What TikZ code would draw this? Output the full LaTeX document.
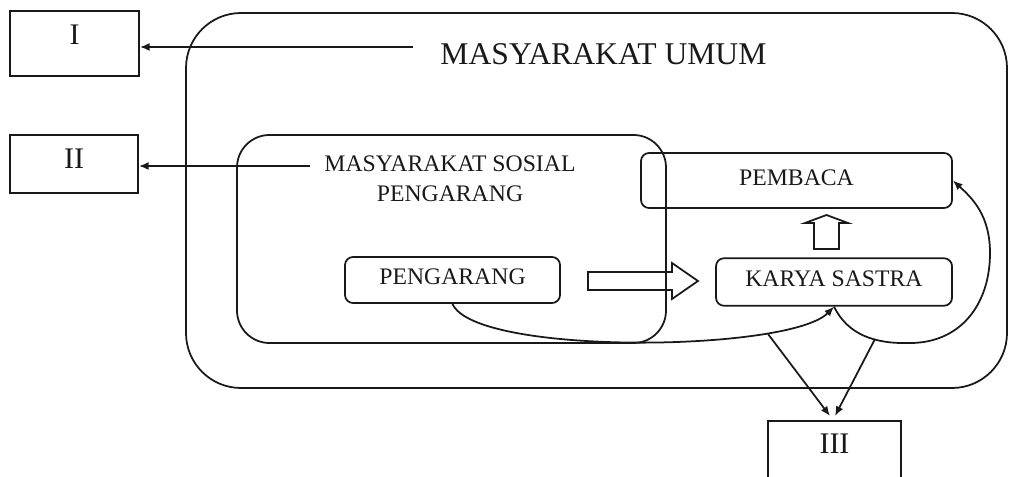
\documentclass[tikz,border=0pt]{standalone}
\usepackage{fontspec}
\setmainfont{Liberation Serif}
\usetikzlibrary{arrows.meta}

\begin{document}
\begin{tikzpicture}[x=0.2mm, y=-0.2mm, line width=1pt, color=black!90,
  kotak/.style={draw, rounded corners=1.6mm, font=\fontsize{13.5}{16}\selectfont, text height=9.3pt, text depth=4pt},
  romawi/.style={draw, font=\fontsize{17}{20}\selectfont, text height=11.3pt},
  panah/.style={-{Latex[length=5.5pt,width=4.5pt]}}]
\useasboundingbox (0,0) rectangle (1010,477);
\clip (0,0) rectangle (1010,477);
% kotak romawi di kiri dan bawah
\node[romawi, minimum width=25.8mm, minimum height=13mm, text depth=9.6pt] (I) at (74.5,43.5) {I};
\node[romawi, minimum width=25.6mm, minimum height=11.6mm, text depth=5.7pt] (II) at (74,164) {II};
\node[romawi, anchor=north, minimum width=26.6mm, inner ysep=0pt, text height=18.7pt, text depth=30pt] (III) at (834.5,420) {III};
% lingkup masyarakat
\draw [rounded corners=11mm] (186,13) rectangle (1007,388);
\draw [rounded corners=6.5mm] (237,135) rectangle (666,343);
\node[font=\fontsize{18}{20}\selectfont] (umum) at (603.5,54.5) {MASYARAKAT UMUM};
\node[align=center, font=\fontsize{13.5}{17.3}\selectfont] (sosial) at (450,179) {MASYARAKAT SOSIAL\\PENGARANG};
% kotak isi
\node[kotak, minimum width=62.2mm, minimum height=11mm] (pembaca) at (796.5,180.5) {PEMBACA};
\node[kotak, minimum width=47.2mm, minimum height=9.5mm] (karya) at (834,282) {KARYA SASTRA};
\node[kotak, minimum width=43mm, minimum height=9.2mm] (pengarang) at (452.5,280) {PENGARANG};
% garis penunjuk
\coordinate (ujung1) at (413,47);
\coordinate (ujung2) at (310,166);
\draw [panah] (ujung1) -- (ujung1 -| I.east);
\draw [panah] (ujung2) -- (ujung2 -| II.east);
% panah blok
\draw (588,272) -- (672,272) -- (672,263) -- (698,281) -- (672,299) -- (672,290) -- (588,290) -- cycle;
\draw (814,249) -- (814,223) -- (805,223) -- (826.5,215) -- (848,223) -- (839,223) -- (839,249) -- cycle;
% lengkungan
\draw [panah] (pengarang.south) .. controls (475,356) and (790,352) .. (karya.south);
\draw [panah] (karya.south) .. controls (848,335) and (875,344) .. (910,343)
  .. controls (960,343) and (990,305) .. (990,253)
  .. controls (990,215) and (972,198) .. (pembaca.east);
\coordinate (cabang1) at (768,334);
\coordinate (cabang2) at (875,339);
\draw [panah] (cabang1) -- ([xshift=-0.9mm,yshift=0.8mm]III.north);
\draw [panah] (cabang2) -- ([xshift=0.1mm,yshift=0.8mm]III.north);
\end{tikzpicture}
\end{document}
